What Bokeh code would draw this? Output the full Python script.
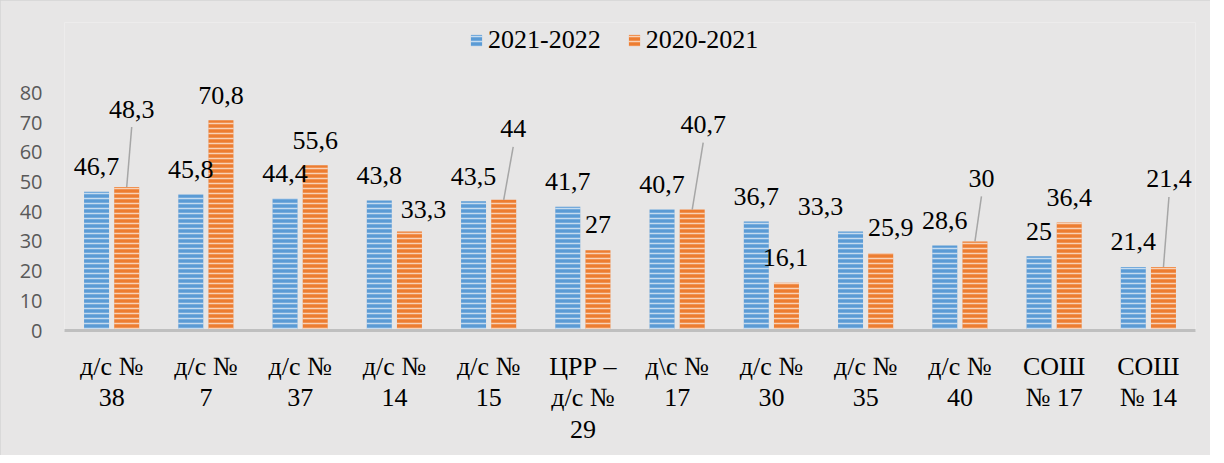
from bokeh.plotting import figure
from bokeh.models import (FactorRange, Range1d, FixedTicker, ColumnDataSource,
                          LabelSet, Legend, LegendItem)
from bokeh.transform import dodge
from bokeh.embed import file_html
from bokeh.resources import INLINE

# ---------------- data ----------------
categories = ["д/с №\n38", "д/с №\n7", "д/с №\n37", "д/с №\n14", "д/с №\n15",
              "ЦРР –\nд/с №\n29", "д\\с №\n17", "д/с №\n30", "д/с №\n35",
              "д/с №\n40", "СОШ\n№ 17", "СОШ\n№ 14"]
series_names = ["2021-2022", "2020-2021"]
values_2021_2022 = [46.7, 45.8, 44.4, 43.8, 43.5, 41.7, 40.7, 36.7, 33.3, 28.6, 25, 21.4]
values_2020_2021 = [48.3, 70.8, 55.6, 33.3, 44, 27, 40.7, 16.1, 25.9, 30, 36.4, 21.4]
y_ticks = [0, 10, 20, 30, 40, 50, 60, 70, 80]

# ---------------- layout / style ----------------
W, H = 1210, 455
BL, BR, BT, BB = 64, 15, 22, 125
Y_END = 103.7
OFF = 0.16
BAR_W = 0.265
ppx = (W - BL - BR) / len(categories)
ppy = (H - BT - BB) / Y_END

# label offsets in screen px (dx right, up above bar top)
dx_a = [0, 0, 0, 0, 0, 0, 0, 0, -30, 0, 0, 0]
up_a = [25] * 12
dx_b = [5, 0, 0, 14, 9.5, 0, 11, -1, 10, 6.5, 0, 5.5]
up_b = [78, 25, 25, 22.5, 71, 26, 85, 25, 26, 63, 25, 88]
leader_b = [True, False, False, False, True, False, True, False, False, True, False, True]

BLUE = "#5b9bd5"
ORANGE = "#ed7d31"
BG = "#e7e6e6"
SERIF = "Liberation Serif"


def fmt(v):
    return f"{v:g}".replace(".", ",")


src = ColumnDataSource(dict(
    cat=categories,
    a=values_2021_2022,
    b=values_2020_2021,
))

lab_a = ColumnDataSource(dict(cat=categories, val=values_2021_2022,
                              txt=[fmt(v) for v in values_2021_2022],
                              dx=dx_a, up=up_a))
lab_b = ColumnDataSource(dict(cat=categories, val=values_2020_2021,
                              txt=[fmt(v) for v in values_2020_2021],
                              dx=dx_b, up=up_b))

p = figure(width=W, height=H, output_backend="svg", toolbar_location=None,
           x_range=FactorRange(factors=categories, range_padding=0, factor_padding=0),
           y_range=Range1d(0, Y_END),
           min_border_left=BL, min_border_right=BR, min_border_top=BT, min_border_bottom=BB)
p.background_fill_color = BG
p.border_fill_color = BG
p.outline_line_color = None
p.grid.visible = False
p.styles = {"outline": "1px solid #d4d4d4", "outline-offset": "-1px"}

common = dict(width=BAR_W, source=src, line_color=None,
              hatch_pattern="horizontal_line", hatch_color="white",
              hatch_alpha=0.65, hatch_scale=5, hatch_weight=1.5)
ra = p.vbar(x=dodge("cat", -OFF, range=p.x_range), top="a", fill_color=BLUE, **common)
rb = p.vbar(x=dodge("cat", OFF, range=p.x_range), top="b", fill_color=ORANGE, **common)

# leader lines
x0, y0, x1, y1 = [], [], [], []
for i, (v, dx, up, ld) in enumerate(zip(values_2020_2021, dx_b, up_b, leader_b)):
    if ld:
        xc = i + 0.5 + OFF
        x0.append(xc + dx / ppx)
        y0.append(v + (up - 18) / ppy)
        x1.append(xc)
        y1.append(v)
p.segment(x0=x0, y0=y0, x1=x1, y1=y1, line_color="#a6a6a6", line_width=1.5)

for s, off in ((lab_a, -OFF), (lab_b, OFF)):
    ls = LabelSet(x=dodge("cat", off, range=p.x_range), y="val", text="txt",
                  x_offset="dx", y_offset="up", source=s,
                  text_align="center", text_baseline="middle",
                  text_font=SERIF, text_font_size="26px", text_color="black")
    p.add_layout(ls)

# axes
xa = p.xaxis[0]
xa.axis_line_color = "#bfbfbf"
xa.axis_line_width = 3
xa.major_tick_line_color = None
xa.minor_tick_line_color = None
xa.major_tick_out = 0
xa.major_label_standoff = 21
xa.major_label_text_font = SERIF
xa.major_label_text_font_size = "26px"
xa.major_label_text_color = "black"
xa.major_label_text_line_height = 1.1

ya = p.yaxis[0]
ya.ticker = FixedTicker(ticks=y_ticks)
ya.axis_line_color = None
ya.major_tick_line_color = None
ya.minor_tick_line_color = None
ya.major_tick_out = 0
ya.major_tick_in = 0
ya.major_label_standoff = 22
ya.major_label_text_font = "Open Sans"
ya.major_label_text_font_size = "20px"
ya.major_label_text_color = "#595959"

legend = Legend(items=[LegendItem(label=series_names[0], renderers=[ra]),
                       LegendItem(label=series_names[1], renderers=[rb])],
                orientation="horizontal", location=(402, 272),
                glyph_width=14, glyph_height=14, label_standoff=5, spacing=26,
                padding=3, margin=0, background_fill_alpha=0, border_line_alpha=0,
                label_text_font=SERIF, label_text_font_size="26px",
                label_text_color="black")
p.add_layout(legend, "center")

open("out.html", "w").write(file_html(p, INLINE))
